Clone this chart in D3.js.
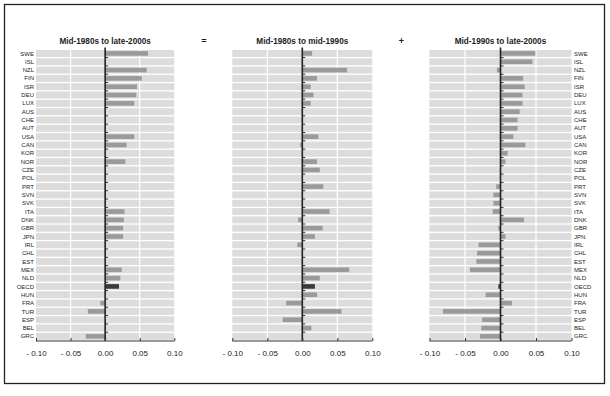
<!DOCTYPE html>
<html>
<head>
<meta charset="utf-8">
<script src="https://cdn.jsdelivr.net/npm/d3@7"></script>
<style>
  body { margin: 0; background: #fff; }
  text { font-family: 'Liberation Sans', Arial, sans-serif; }
</style>
</head>
<body>
<div id="chart"></div>
<script>
var countries = ['SWE', 'ISL', 'NZL', 'FIN', 'ISR', 'DEU', 'LUX', 'AUS', 'CHE', 'AUT',
  'USA', 'CAN', 'KOR', 'NOR', 'CZE', 'POL', 'PRT', 'SVN', 'SVK', 'ITA', 'DNK', 'GBR',
  'JPN', 'IRL', 'CHL', 'EST', 'MEX', 'NLD', 'OECD', 'HUN', 'FRA', 'TUR', 'ESP', 'BEL', 'GRC']

var mid80sToLate00s = [0.062, 0, 0.060, 0.053, 0.046, 0.045, 0.042, 0, 0, 0,
  0.042, 0.031, 0, 0.029, 0, 0, 0, 0, 0, 0.028, 0.027, 0.026,
  0.026, 0, 0, 0, 0.024, 0.022, 0.020, 0, -0.007, -0.025, 0, 0, -0.028]

var mid80sToMid90s = [0.014, 0, 0.064, 0.021, 0.012, 0.016, 0.012, 0, 0, 0,
  0.023, -0.003, 0, 0.021, 0.025, 0, 0.030, 0, 0, 0.039, -0.006, 0.029,
  0.018, -0.007, 0, 0, 0.067, 0.025, 0.018, 0.021, -0.023, 0.056, -0.028, 0.013, 0]

var mid90sToLate00s = [0.049, 0.045, -0.005, 0.032, 0.034, 0.031, 0.031, 0.027, 0.024, 0.024,
  0.018, 0.035, 0.010, 0.007, 0, 0, -0.006, -0.010, -0.010, -0.011, 0.033, -0.003,
  0.007, -0.031, -0.033, -0.034, -0.043, 0, -0.003, -0.021, 0.016, -0.081, -0.026, -0.027, -0.029]

var panelTitles = ['Mid-1980s to late-2000s', 'Mid-1980s to mid-1990s', 'Mid-1990s to late-2000s']
var xTicks = [-0.10, -0.05, 0, 0.05, 0.10]
var xTickLabels = ['- 0.10', '- 0.05', '0.00', '0.05', '0.10']

var width = 610
var height = 396

var svg = d3.select('#chart').append('svg')
  .attr('width', width)
  .attr('height', height)

// outer frame
svg.append('rect')
  .attr('x', 4.5)
  .attr('y', 4.5)
  .attr('width', 600)
  .attr('height', 379)
  .attr('fill', 'none')
  .attr('stroke', '#222')
  .attr('stroke-width', 1.3)

var y = d3.scaleBand()
  .domain(countries)
  .range([48.6, 341.2])
  .padding(0.16)

var axisY = 341

function drawPanel(values, title, range, labelSide) {
  var x = d3.scaleLinear().domain([-0.1, 0.1]).range(range)
  var g = svg.append('g').attr('class', 'panel')

  // row bands
  g.selectAll('rect.band')
      .data(countries)
    .enter().append('rect')
      .attr('class', 'band')
      .attr('x', x(-0.1))
      .attr('y', function (d) { return y(d) })
      .attr('width', x(0.1) - x(-0.1))
      .attr('height', y.bandwidth())
      .attr('fill', '#dcdcdc')

  // white vertical gridlines
  g.selectAll('line.grid')
      .data([-0.05, 0.05])
    .enter().append('line')
      .attr('class', 'grid')
      .attr('x1', function (d) { return x(d) })
      .attr('x2', function (d) { return x(d) })
      .attr('y1', y.range()[0])
      .attr('y2', axisY)
      .attr('stroke', '#fff')
      .attr('stroke-width', 1.2)

  // bars
  var bh = y.bandwidth() * 0.66
  g.selectAll('rect.bar')
      .data(values.map(function (v, i) { return { c: countries[i], v: v } }))
    .enter().append('rect')
      .attr('class', 'bar')
      .attr('x', function (d) { return x(Math.min(0, d.v)) })
      .attr('y', function (d) { return y(d.c) + (y.bandwidth() - bh) / 2 })
      .attr('width', function (d) { return Math.abs(x(d.v) - x(0)) })
      .attr('height', bh)
      .attr('fill', function (d) { return d.c === 'OECD' ? '#3a3a3a' : '#9a9a9a' })

  // zero line with small ticks at row boundaries
  var step = y.step()
  var bounds = countries.slice(1).map(function (c) { return y(c) - (step - y.bandwidth()) / 2 })
  g.selectAll('line.rtick')
      .data(bounds)
    .enter().append('line')
      .attr('class', 'rtick')
      .attr('x1', x(0))
      .attr('x2', x(0) + 3)
      .attr('y1', function (d) { return d })
      .attr('y2', function (d) { return d })
      .attr('stroke', '#333')
      .attr('stroke-width', 1)

  g.append('line')
    .attr('x1', x(0))
    .attr('x2', x(0))
    .attr('y1', y.range()[0] - 1)
    .attr('y2', axisY)
    .attr('stroke', '#222')
    .attr('stroke-width', 1.6)

  // bottom axis
  var gx = g.append('g')
    .attr('transform', 'translate(0,' + axisY + ')')
    .call(d3.axisBottom(x)
      .tickValues(xTicks)
      .tickSize(-3)
      .tickPadding(8)
      .tickFormat(function (d, i) { return xTickLabels[i] }))
  gx.select('.domain')
    .attr('d', 'M' + x(-0.1) + ',0H' + x(0.1))
    .attr('stroke', '#333')
  gx.selectAll('.tick line').attr('stroke', '#333')
  gx.selectAll('.tick text')
    .attr('font-size', 8)
    .attr('fill', '#222')
    .attr('dy', '0.85em')

  // title
  g.append('text')
    .attr('x', x(0))
    .attr('y', 44)
    .attr('text-anchor', 'middle')
    .attr('font-size', 8.2)
    .attr('font-weight', 'bold')
    .attr('fill', '#222')
    .text(title)

  // country labels
  if (labelSide) {
    g.selectAll('text.country')
        .data(countries)
      .enter().append('text')
        .attr('class', 'country')
        .attr('x', labelSide === 'left' ? x(-0.1) - 2 : x(0.1) + 2.5)
        .attr('y', function (d) { return y(d) + y.bandwidth() / 2 })
        .attr('dy', '0.35em')
        .attr('text-anchor', labelSide === 'left' ? 'end' : 'start')
        .attr('font-size', 6)
        .attr('fill', '#222')
        .text(function (d) { return d })
  }
}

drawPanel(mid80sToLate00s, panelTitles[0], [36, 174.3], 'left')
drawPanel(mid80sToMid90s, panelTitles[1], [232.3, 372.3], null)
drawPanel(mid90sToLate00s, panelTitles[2], [429.5, 571.5], 'right')

// operators between panels
svg.append('text')
  .attr('x', 204)
  .attr('y', 44)
  .attr('text-anchor', 'middle')
  .attr('font-size', 9)
  .attr('font-weight', 'bold')
  .attr('fill', '#222')
  .text('=')

svg.append('text')
  .attr('x', 401.5)
  .attr('y', 44)
  .attr('text-anchor', 'middle')
  .attr('font-size', 9)
  .attr('font-weight', 'bold')
  .attr('fill', '#222')
  .text('+')
</script>
</body>
</html>
